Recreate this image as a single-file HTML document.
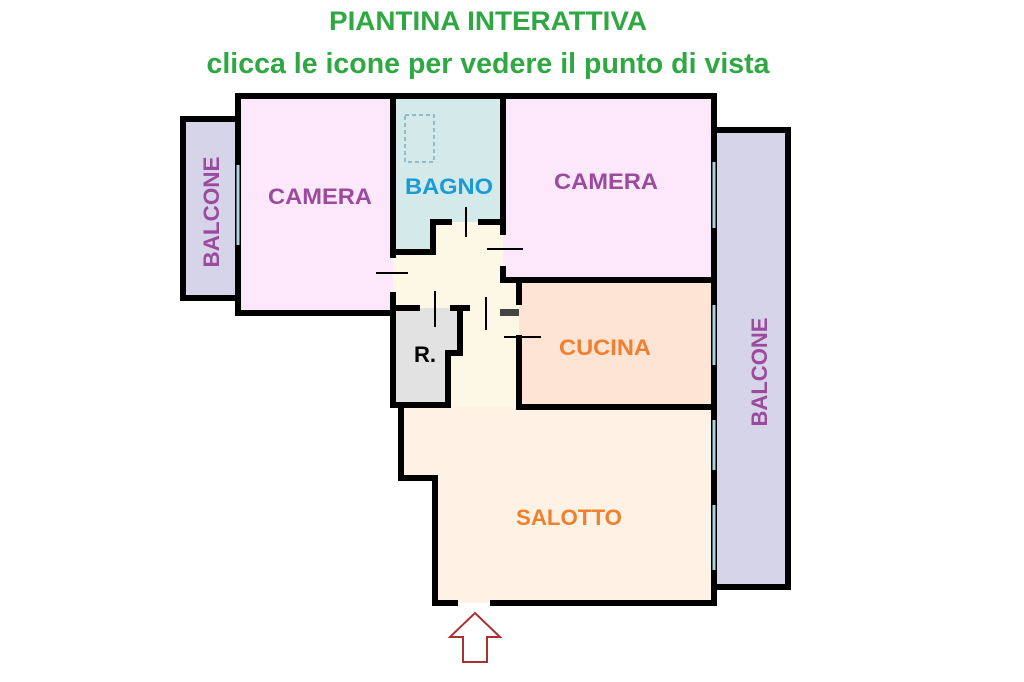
<!DOCTYPE html>
<html><head><meta charset="utf-8"><style>
html,body{margin:0;padding:0;background:#fff;}
svg{display:block;}
text{font-family:"Liberation Sans",sans-serif;font-weight:bold;}
</style></head><body>
<svg width="1024" height="682" viewBox="0 0 1024 682" xmlns="http://www.w3.org/2000/svg">
<rect width="1024" height="682" fill="#fff"/>
<!-- title -->
<text x="488" y="30" font-size="27" fill="#2fa843" text-anchor="middle" textLength="318" lengthAdjust="spacingAndGlyphs">PIANTINA INTERATTIVA</text>
<text x="488" y="73" font-size="29" fill="#2fa843" text-anchor="middle" textLength="563" lengthAdjust="spacingAndGlyphs">clicca le icone per vedere il punto di vista</text>

<!-- fills -->
<rect x="180" y="116" width="58" height="184" fill="#d6d4e8"/>
<rect x="714" y="130" width="76" height="457" fill="#d6d4e8"/>
<rect x="238" y="96" width="155" height="217" fill="#fce8fa"/>
<rect x="503" y="96" width="211" height="184" fill="#fce8fa"/>
<rect x="393" y="96" width="110" height="156" fill="#d4e9ea"/>
<polygon points="393,252 433,252 433,222 503,222 503,280 519,280 519,407 401,407 401,313 393,313" fill="#fdf8e6"/>
<rect x="519" y="280" width="195" height="127" fill="#fde4d4"/>
<polygon points="401,407 714,407 714,603 435,603 435,478 401,478" fill="#fdf2e3"/>
<polygon points="393,308 460,308 460,353 448,353 448,405 393,405" fill="#e2e2e2"/>

<!-- walls -->
<g fill="none" stroke="#000" stroke-width="6" stroke-linejoin="miter">
<rect x="183" y="119" width="55" height="179"/>
<polyline points="714,130 788,130 788,587 714,587"/>
<polyline points="490,603 714,603 714,96 238,96 238,313 393,313"/>
<polyline points="458,603 435,603 435,478 401,478 401,405 393,405 393,292"/>
<polyline points="393,96 393,258"/>
<polyline points="393,252 433,252 433,222 452,222"/>
<polyline points="478,222 503,222 503,235"/>
<polyline points="503,96 503,222"/>
<polyline points="503,266 503,280 714,280"/>
<polyline points="519,280 519,305"/>
<polyline points="519,335 519,407 714,407"/>
<polyline points="393,308 420,308"/>
<polyline points="450,308 470,308"/>
<polyline points="460,308 460,353 448,353 448,405 401,405"/>
</g>
<rect x="500" y="309" width="19" height="7" fill="#444"/>
<!-- door lines -->
<g stroke="#000" stroke-width="2">
<line x1="466" y1="207" x2="466" y2="237"/>
<line x1="487" y1="249" x2="523" y2="249"/>
<line x1="376" y1="273" x2="408" y2="273"/>
<line x1="435" y1="291" x2="435" y2="327"/>
<line x1="486" y1="297" x2="486" y2="330"/>
<line x1="504" y1="337" x2="541" y2="337"/>
</g>
<!-- windows -->
<g stroke="#a8d4de" stroke-width="3">
<line x1="238" y1="165" x2="238" y2="245"/>
<line x1="714" y1="162" x2="714" y2="228"/>
<line x1="714" y1="305" x2="714" y2="365"/>
<line x1="714" y1="420" x2="714" y2="470"/>
<line x1="714" y1="505" x2="714" y2="570"/>
</g>
<!-- shower -->
<rect x="405" y="115" width="29" height="47" fill="none" stroke="#6aa0b8" stroke-width="1.2" stroke-dasharray="4,3"/>

<!-- labels -->
<text x="320" y="204" font-size="22" fill="#9b4a9e" text-anchor="middle" textLength="104" lengthAdjust="spacingAndGlyphs">CAMERA</text>
<text x="449" y="194" font-size="22" fill="#1a9ad6" text-anchor="middle" textLength="88" lengthAdjust="spacingAndGlyphs">BAGNO</text>
<text x="606" y="189" font-size="22" fill="#9b4a9e" text-anchor="middle" textLength="104" lengthAdjust="spacingAndGlyphs">CAMERA</text>
<text x="605" y="355" font-size="22" fill="#f08030" text-anchor="middle" textLength="92" lengthAdjust="spacingAndGlyphs">CUCINA</text>
<text x="569" y="525" font-size="22" fill="#f08030" text-anchor="middle" textLength="106" lengthAdjust="spacingAndGlyphs">SALOTTO</text>
<text x="425" y="362" font-size="22" fill="#000" text-anchor="middle">R.</text>
<text transform="translate(219,212) rotate(-90)" font-size="22" fill="#9b4a9e" text-anchor="middle" textLength="111" lengthAdjust="spacingAndGlyphs">BALCONE</text>
<text transform="translate(767,372) rotate(-90)" font-size="22" fill="#9b4a9e" text-anchor="middle" textLength="109" lengthAdjust="spacingAndGlyphs">BALCONE</text>

<!-- arrow -->
<polygon points="475,613 500,637 487,637 487,662 463,662 463,637 450,637" fill="#fff" stroke="#a83232" stroke-width="2"/>
</svg>
</body></html>
